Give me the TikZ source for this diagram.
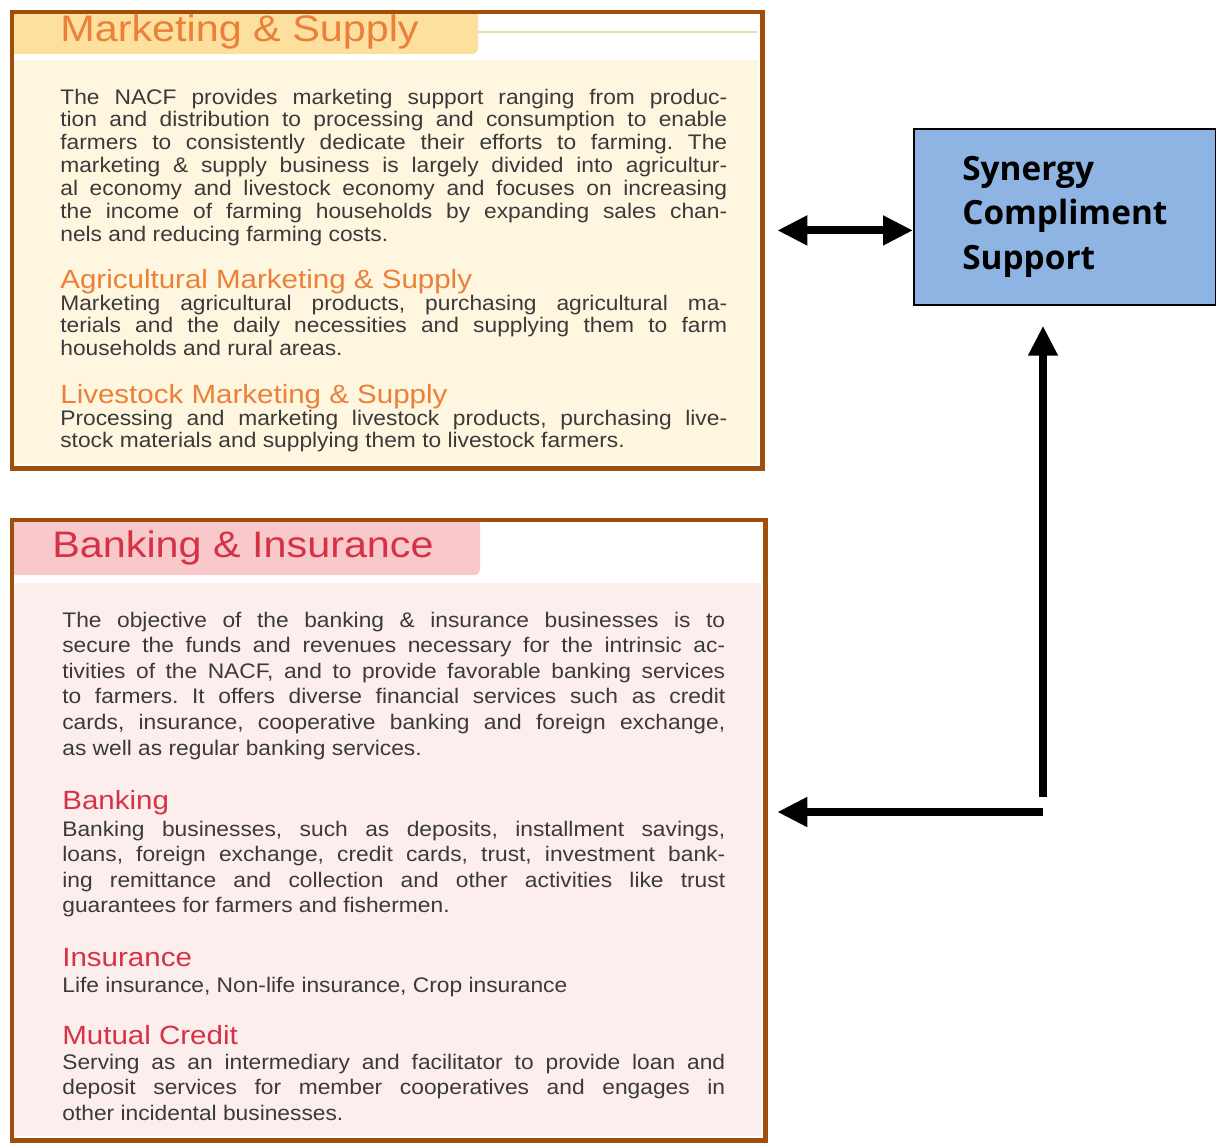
\documentclass[tikz,border=0pt]{standalone}
\usepackage{fontspec}
\setmainfont{Liberation Sans}
\newfontfamily\bodyfont[FakeStretch=1.08]{Liberation Sans}
\newfontfamily\headfont[FakeStretch=1.12]{Liberation Sans}
\newfontfamily\synfont{Open Sans}
\usetikzlibrary{positioning,calc,arrows.meta}

\definecolor{framebrown}{RGB}{160,78,12}
\definecolor{mkcream}{RGB}{255,246,223}
\definecolor{mkband}{RGB}{253,223,158}
\definecolor{mkline}{RGB}{236,218,180}
\definecolor{mkorange}{RGB}{234,128,58}
\definecolor{bkband}{RGB}{249,200,202}
\definecolor{bkpink}{RGB}{253,238,238}
\definecolor{bkred}{RGB}{214,50,70}
\definecolor{bodygray}{RGB}{58,58,58}
\definecolor{synblue}{RGB}{141,180,226}

\hyphenpenalty=10000
\tolerance=10000
\frenchspacing

\tikzset{
	frame/.style={draw=framebrown, line width=2.8pt, inner sep=0pt},
	title/.style={font=\headfont\fontsize{21}{24}\selectfont, inner sep=0pt, anchor=base west},
	subhead/.style={font=\headfont\fontsize{15}{17}\selectfont, inner sep=0pt, anchor=base west},
	mktext/.style={font=\bodyfont\fontsize{12}{13}\selectfont, text=bodygray,
		text width=13.34cm, align=justify, inner sep=0pt, anchor=base west},
	bktext/.style={mktext, font=\bodyfont\fontsize{12}{14.6}\selectfont, text width=13.26cm},
	synbox/.style={draw=black, line width=1pt, fill=synblue, align=left,
		font=\synfont\bfseries\fontsize{19}{25.5}\selectfont},
	bigarrow/.style={line width=4.5pt, -{Triangle[length=0.6cm,width=0.56cm]}},
}

\begin{document}
\begin{tikzpicture}[x=0.02cm,y=-0.02cm]

\useasboundingbox (0,0) rectangle (1216,1143);

% Marketing & Supply
\fill[mkcream] (12,60) rectangle (758,464);
\fill[mkband] (12,12) -- (478,12) -- (478,48) arc[start angle=0,end angle=-90,radius=0.12cm] -- (12,54) -- cycle;
\draw[mkline, line width=0.8pt] (478,32) -- (757,32);
\node [frame,
	minimum width=15.02cm,
	minimum height=9.14cm,
	anchor=north west
] (mkbox) at (9.5,9.5) {};

\node [title, text=mkorange] (mktitle) at (60,41) {Marketing \& Supply};

\node [mktext] (mkintro) at (60,104) {
The NACF provides marketing support ranging from produc-\linebreak
tion and distribution to processing and consumption to enable \linebreak
farmers to consistently dedicate their efforts to farming. The \linebreak
marketing \& supply business is largely divided into agricultur-\linebreak
al economy and livestock economy and focuses on increasing \linebreak
the income of farming households by expanding sales chan-\linebreak
nels and reducing farming costs.
};

\node [subhead, text=mkorange] (agrihead) at (60,288) {Agricultural Marketing \& Supply};
\node [mktext] (agribody) at (60,310) {
Marketing agricultural products, purchasing agricultural ma-\linebreak
terials and the daily necessities and supplying them to farm \linebreak
households and rural areas.
};

\node [subhead, text=mkorange] (livehead) at (60,403) {Livestock Marketing \& Supply};
\node [mktext] (livebody) at (60,425) {
Processing and marketing livestock products, purchasing live-\linebreak
stock materials and supplying them to livestock farmers.
};

% Banking & Insurance
\fill[bkpink] (12,583) rectangle (761,1136);
\fill[bkband] (12,520) -- (480,520) -- (480,569) arc[start angle=0,end angle=-90,radius=0.12cm] -- (12,575) -- cycle;
\node [frame,
	minimum width=15.08cm,
	minimum height=12.42cm,
	anchor=north west
] (bkbox) at (9.5,517.5) {};

\node [title, text=bkred] (bktitle) at (52,557) {Banking \& Insurance};

\node [bktext] (bkintro) at (62,627) {
The objective of the banking \& insurance businesses is to \linebreak
secure the funds and revenues necessary for the intrinsic ac-\linebreak
tivities of the NACF, and to provide favorable banking services \linebreak
to farmers. It offers diverse financial services such as credit \linebreak
cards, insurance, cooperative banking and foreign exchange, \linebreak
as well as regular banking services.
};

\node [subhead, text=bkred] (bankhead) at (62,809) {Banking};
\node [bktext] (bankbody) at (62,836) {
Banking businesses, such as deposits, installment savings, \linebreak
loans, foreign exchange, credit cards, trust, investment bank-\linebreak
ing remittance and collection and other activities like trust \linebreak
guarantees for farmers and fishermen.
};

\node [subhead, text=bkred] (inshead) at (62,966) {Insurance};
\node [bktext] (insbody) at (62,992) {
Life insurance, Non-life insurance, Crop insurance
};

\node [subhead, text=bkred] (mutualhead) at (62,1044) {Mutual Credit};
\node [bktext] (mutualbody) at (62,1069) {
Serving as an intermediary and facilitator to provide loan and \linebreak
deposit services for member cooperatives and engages in \linebreak
other incidental businesses.
};

% Synergy
\node [synbox,
	minimum width=6.04cm,
	minimum height=3.52cm,
	anchor=north west
] (syn) at (913,128) {Synergy\\Compliment\\Support};

% Arrows
\coordinate (dblstart) at ($(mkbox.east)+(12,-10)$);
\draw[bigarrow, {Triangle[length=0.6cm,width=0.56cm]}-{Triangle[length=0.6cm,width=0.56cm]}]
	(dblstart) -- (dblstart -| syn.west);

\coordinate (corner) at (1043,812);
\draw[bigarrow] ($(corner)+(0,-15)$) -- ($(corner |- syn.south)+(0,20)$);
\draw[bigarrow] (corner) -- ($(corner -| bkbox.east)+(9,0)$);

\end{tikzpicture}
\end{document}
